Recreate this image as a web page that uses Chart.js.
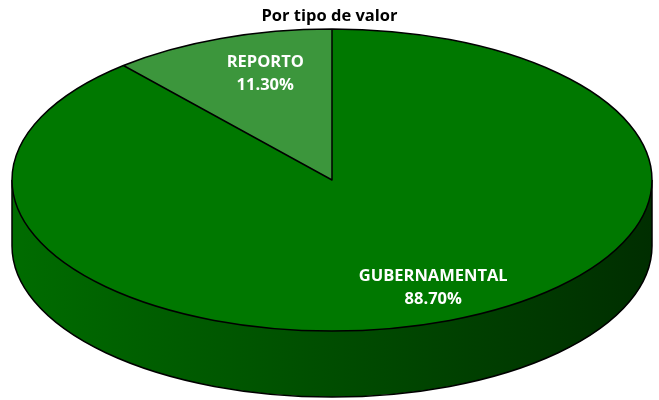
<!DOCTYPE html>
<html>
<head>
<meta charset="utf-8">
<script src="https://cdn.jsdelivr.net/npm/chart.js@4"></script>
<style>
  body { margin: 0; background: #fff; }
  canvas { display: block; }
</style>
</head>
<body>
<canvas id="myChart" width="659" height="400"></canvas>
<script>
// chart data
const categories = ['GUBERNAMENTAL', 'REPORTO'];
const shares = [88.7, 11.3];
const sliceColors = ['#007800', '#3c963c'];

// how the flat pie is laid on its side (screen pixels)
const tilt = { cx: 332, cy: 180, rx: 320, ry: 151, depth: 66 };
// where each label sits: fraction of the radius, then a small lift
const labelRadius = [0.91, 0.6];
const labelLift = -21;

Chart.defaults.font.family = "'Open Sans', 'DejaVu Sans', sans-serif";

function applyTilt(ctx, arc, dy) {
    const sx = tilt.rx / arc.outerRadius;
    const sy = tilt.ry / arc.outerRadius;
    ctx.setTransform(sx, 0, 0, sy, tilt.cx - arc.x * sx, tilt.cy + dy - arc.y * sy);
}

const pie3d = {
    id: 'pie3d',
    beforeDatasetsDraw(chart) {
        const ctx = chart.ctx;
        const arcs = chart.getDatasetMeta(0).data;
        const a0 = arcs[0];
        ctx.save();

        // side wall, stacked copies of the slices pushed down
        ctx.beginPath();
        for (let dy = tilt.depth; dy >= 1; dy--) {
            applyTilt(ctx, a0, dy);
            for (const a of arcs) {
                ctx.moveTo(a.x, a.y);
                ctx.arc(a.x, a.y, a.outerRadius, a.startAngle, a.endAngle);
                ctx.closePath();
            }
        }
        ctx.setTransform(1, 0, 0, 1, 0, 0);
        const grad = ctx.createLinearGradient(tilt.cx - tilt.rx, 0, tilt.cx + tilt.rx, 0);
        grad.addColorStop(0, '#006c00');
        grad.addColorStop(1, '#002e00');
        ctx.fillStyle = grad;
        ctx.fill();

        // outline of the wall
        ctx.beginPath();
        applyTilt(ctx, a0, tilt.depth);
        ctx.arc(a0.x, a0.y, a0.outerRadius, 0, Math.PI);
        ctx.setTransform(1, 0, 0, 1, 0, 0);
        ctx.moveTo(tilt.cx - tilt.rx, tilt.cy);
        ctx.lineTo(tilt.cx - tilt.rx, tilt.cy + tilt.depth);
        ctx.moveTo(tilt.cx + tilt.rx, tilt.cy);
        ctx.lineTo(tilt.cx + tilt.rx, tilt.cy + tilt.depth);
        ctx.strokeStyle = '#000';
        ctx.lineWidth = 1.5;
        ctx.stroke();

        // top face gets drawn by chart.js under this transform
        applyTilt(ctx, a0, 0);
    },
    afterDatasetsDraw(chart) {
        const ctx = chart.ctx;
        ctx.restore();
        const arcs = chart.getDatasetMeta(0).data;
        const a0 = arcs[0];
        const sx = tilt.rx / a0.outerRadius;
        const sy = tilt.ry / a0.outerRadius;

        ctx.save();
        ctx.beginPath();
        applyTilt(ctx, a0, 0);
        for (const a of arcs) {
            ctx.moveTo(a.x, a.y);
            ctx.arc(a.x, a.y, a.outerRadius, a.startAngle, a.endAngle);
            ctx.closePath();
        }
        ctx.setTransform(1, 0, 0, 1, 0, 0);
        ctx.strokeStyle = '#000';
        ctx.lineWidth = 1.5;
        ctx.lineJoin = 'round';
        ctx.stroke();

        // labels
        ctx.fillStyle = '#fff';
        ctx.font = "bold 16.5px 'Open Sans', sans-serif";
        ctx.textAlign = 'center';
        ctx.textBaseline = 'middle';
        arcs.forEach((a, i) => {
            const mid = (a.startAngle + a.endAngle) / 2;
            const r = a.outerRadius * labelRadius[i];
            const x = tilt.cx + Math.cos(mid) * r * sx;
            const y = tilt.cy + Math.sin(mid) * r * sy + labelLift;
            ctx.fillText(categories[i], x, y - 11.5);
            ctx.fillText(shares[i].toFixed(2) + '%', x, y + 11.5);
        });
        ctx.restore();
    }
};

const ctx = document.getElementById('myChart').getContext('2d');
const chart = new Chart(ctx, {
    type: 'pie',
    data: {
        labels: categories,
        datasets: [{
            data: shares,
            backgroundColor: sliceColors,
            borderWidth: 0
        }]
    },
    options: {
        responsive: false,
        animation: false,
        devicePixelRatio: 1,
        events: [],
        plugins: {
            legend: { display: false },
            tooltip: { enabled: false },
            title: {
                display: true,
                text: 'Por tipo de valor',
                color: '#000',
                font: { size: 16.5, weight: 'bold' },
                padding: { top: 6, bottom: 4 }
            }
        }
    },
    plugins: [pie3d]
});
</script>
</body>
</html>
